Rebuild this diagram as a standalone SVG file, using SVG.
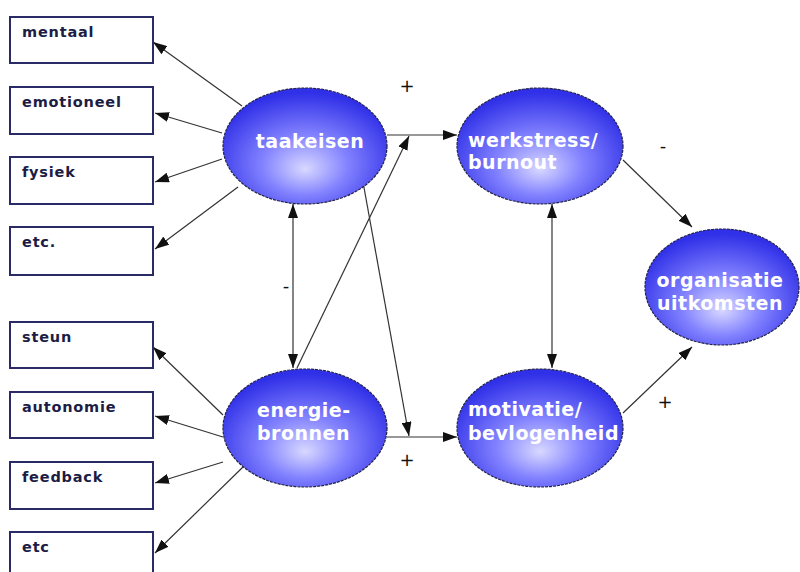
<svg xmlns="http://www.w3.org/2000/svg" width="800" height="572" viewBox="0 0 800 572">
<defs>
<radialGradient id="blob" cx="50%" cy="62%" r="58%" fx="50%" fy="70%">
<stop offset="0" stop-color="#d8d8ff"/>
<stop offset="0.45" stop-color="#8282ff"/>
<stop offset="1" stop-color="#3030e8"/>
</radialGradient>
<marker id="ah" viewBox="0 0 14 10" refX="14" refY="5" markerUnits="userSpaceOnUse" markerWidth="14" markerHeight="10" orient="auto-start-reverse">
<path d="M0,0 L14,5 L0,10 z" fill="#111"/>
</marker>
<style>
.box{fill:#fff;stroke:#2a2a66;stroke-width:2}
.bl{font-family:"DejaVu Sans",Verdana,sans-serif;font-weight:bold;font-size:14.5px;fill:#1c1c44;letter-spacing:0.8px}
.el{fill:url(#blob);stroke:#22224a;stroke-width:1.2;stroke-dasharray:3 1}
.et{font-family:"DejaVu Sans",Verdana,sans-serif;font-weight:bold;font-size:19px;fill:#fff;letter-spacing:0.5px}
.c{stroke:#333;stroke-width:1.2;fill:none;marker-end:url(#ah)}
.d{marker-start:url(#ah)}
.sg{font-family:"DejaVu Sans",Arial,sans-serif;font-size:18px;fill:#111}
</style>
</defs>
<rect width="800" height="572" fill="#fff"/>

<g id="connectors">
<line class="c" x1="242" y1="106" x2="153" y2="42"/>
<line class="c" x1="222" y1="133" x2="155" y2="113"/>
<line class="c" x1="222" y1="159" x2="155" y2="182"/>
<line class="c" x1="238" y1="187" x2="155" y2="249"/>
<line class="c" x1="223" y1="415" x2="153" y2="347"/>
<line class="c" x1="223" y1="437" x2="155" y2="416"/>
<line class="c" x1="223" y1="462" x2="155" y2="483"/>
<line class="c" x1="243" y1="467" x2="155" y2="553"/>
<line class="c" x1="387" y1="135" x2="457" y2="135"/>
<line class="c" x1="387" y1="437" x2="457" y2="437"/>
<line class="c" x1="297" y1="368" x2="409" y2="136"/>
<line class="c" x1="363" y1="182" x2="409" y2="436"/>
<line class="c d" x1="293" y1="204" x2="293" y2="368"/>
<line class="c d" x1="552" y1="204" x2="552" y2="368"/>
<line class="c" x1="623" y1="160" x2="692" y2="227"/>
<line class="c" x1="623" y1="413" x2="692" y2="347"/>
<text class="sg" x="407" y="92" text-anchor="middle">+</text>
<text class="sg" x="663" y="152" text-anchor="middle">-</text>
<text class="sg" x="286" y="292" text-anchor="middle">-</text>
<text class="sg" x="665" y="408" text-anchor="middle">+</text>
<text class="sg" x="407" y="466" text-anchor="middle">+</text>
</g>

<g id="box-mentaal"><rect class="box" x="10" y="17" width="143" height="46"/><text class="bl" x="22" y="37">mentaal</text></g>
<g id="box-emotioneel"><rect class="box" x="10" y="87" width="143" height="47"/><text class="bl" x="22" y="107">emotioneel</text></g>
<g id="box-fysiek"><rect class="box" x="10" y="157" width="143" height="47"/><text class="bl" x="22" y="177">fysiek</text></g>
<g id="box-etc1"><rect class="box" x="10" y="227" width="143" height="48"/><text class="bl" x="22" y="247">etc.</text></g>
<g id="box-steun"><rect class="box" x="10" y="322" width="143" height="46"/><text class="bl" x="22" y="342">steun</text></g>
<g id="box-autonomie"><rect class="box" x="10" y="392" width="143" height="46"/><text class="bl" x="22" y="412">autonomie</text></g>
<g id="box-feedback"><rect class="box" x="10" y="462" width="143" height="47"/><text class="bl" x="22" y="482">feedback</text></g>
<g id="box-etc2"><rect class="box" x="10" y="532" width="143" height="50"/><text class="bl" x="22" y="552">etc</text></g>

<g id="taakeisen"><ellipse class="el" cx="305" cy="146" rx="82" ry="58"/><text class="et" x="310" y="148" text-anchor="middle">taakeisen</text></g>
<g id="energiebronnen"><ellipse class="el" cx="305" cy="428" rx="82" ry="59"/><text class="et" x="257" y="417">energie-</text><text class="et" x="257" y="440">bronnen</text></g>
<g id="werkstress"><ellipse class="el" cx="540" cy="146" rx="83" ry="58"/><text class="et" x="468" y="147">werkstress/</text><text class="et" x="468" y="169">burnout</text></g>
<g id="motivatie"><ellipse class="el" cx="540" cy="428" rx="83" ry="59"/><text class="et" x="468" y="416">motivatie/</text><text class="et" x="468" y="440">bevlogenheid</text></g>
<g id="organisatie"><ellipse class="el" cx="722" cy="287" rx="77" ry="58"/><text class="et" x="720" y="287" text-anchor="middle">organisatie</text><text class="et" x="720" y="310" text-anchor="middle">uitkomsten</text></g>
</svg>
